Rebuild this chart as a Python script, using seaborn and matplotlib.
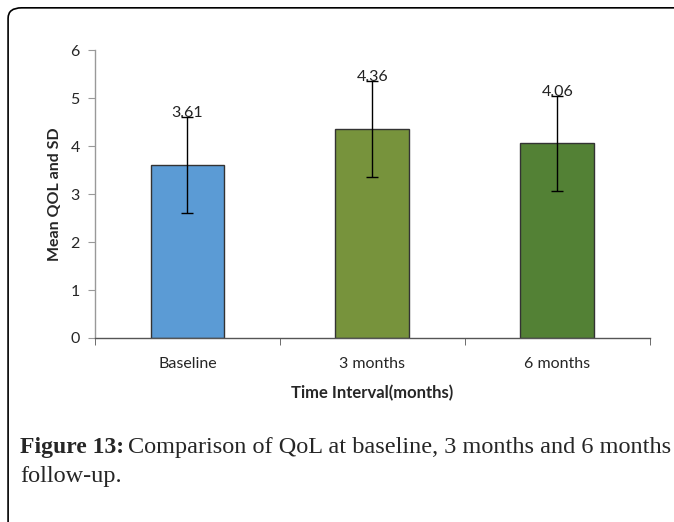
import matplotlib
matplotlib.use("Agg")
import matplotlib.pyplot as plt
import seaborn as sns
import numpy as np
from matplotlib.patches import FancyBboxPatch
from matplotlib.ticker import MultipleLocator, FixedLocator

# data
categories = ['Baseline', '3 months', '6 months']
mean_qol = [3.61, 4.36, 4.06]
sd_qol = [1.0, 1.0, 0.99]
bar_colors = ['#5B9BD5', '#77933C', '#538135']

sns.set_style('white')
plt.rcParams['font.family'] = ['Lato', 'DejaVu Sans']

fig = plt.figure(figsize=(6.74, 5.22), dpi=100)
ax = fig.add_axes([0.141, 0.3525, 0.823, 0.5515])

sns.barplot(x=categories, y=mean_qol, hue=categories, palette=bar_colors,
            width=0.4, edgecolor='#333333', linewidth=1.0, legend=False,
            saturation=1, ax=ax)
ax.errorbar(np.arange(len(categories)), mean_qol, yerr=sd_qol, fmt='none',
            ecolor='black', elinewidth=1.0, capsize=4, capthick=1.0)

for i, (m, s) in enumerate(zip(mean_qol, sd_qol)):
    ax.text(i, m + s - 0.06, f'{m:.2f}', ha='center', va='bottom',
            fontsize=11.5, color='#222222')

ax.set_xlim(-0.5, 2.5)
ax.set_ylim(0, 6)
ax.yaxis.set_major_locator(MultipleLocator(1))
ax.xaxis.set_minor_locator(FixedLocator([-0.5, 0.5, 1.5, 2.5]))
ax.tick_params(axis='x', which='major', length=0, labelsize=11.5, pad=14)
ax.tick_params(axis='x', which='minor', length=5, color='#555555', direction='out', bottom=True)
ax.tick_params(axis='y', length=5, color='#999999', direction='out', left=True, labelsize=11.5, pad=6)

for side in ['top', 'right']:
    ax.spines[side].set_visible(False)
ax.spines['left'].set_color('#999999')
ax.spines['bottom'].set_color('#555555')
ax.spines['left'].set_linewidth(1.0)
ax.spines['bottom'].set_linewidth(1.0)

ax.set_ylabel('Mean QOL and SD', fontsize=11.5, fontweight='bold', labelpad=6)
ax.set_xlabel('Time Interval(months)', fontsize=12, fontweight='bold', labelpad=10)

# rounded frame round the figure
frame = FancyBboxPatch((0.012, -0.2), 1.2, 1.185, boxstyle='round,pad=0,rounding_size=0.02',
                       transform=fig.transFigure, facecolor='none', edgecolor='black',
                       linewidth=1.2, clip_on=False)
fig.patches.append(frame)

# caption
serif = ['Liberation Serif', 'DejaVu Serif']
t1 = fig.text(0.030, 0.133, 'Figure 13:', fontsize=17, fontweight='bold',
              family=serif, va='baseline')
fig.canvas.draw()
bb = t1.get_window_extent().transformed(fig.transFigure.inverted())
fig.text(bb.x1 + 0.006, 0.133, 'Comparison of QoL at baseline, 3 months and 6 months',
         fontsize=17.5, family=serif, va='baseline')
fig.text(0.030, 0.077, 'follow-up.', fontsize=17.5, family=serif, va='baseline')

fig.savefig('out.png', dpi=100)
